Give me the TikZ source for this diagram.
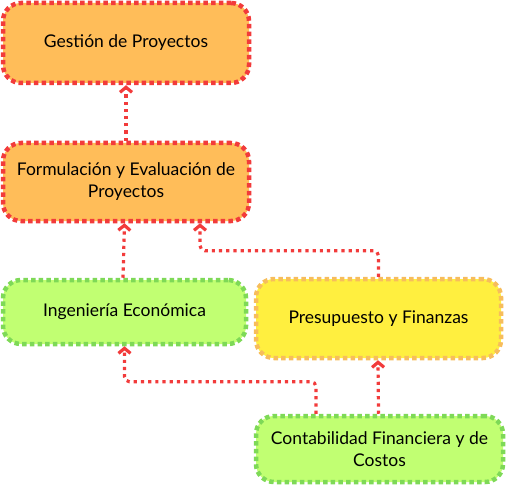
\documentclass[tikz,border=0pt]{standalone}
\usepackage{fontspec}
\setmainfont{Lato}
\usetikzlibrary{arrows.meta}
\definecolor{boxorange}{HTML}{FFBD59}
\definecolor{boxgreen}{HTML}{C1FF72}
\definecolor{boxyellow}{HTML}{FFEF3F}
\definecolor{edgered}{HTML}{F23B3B}
\definecolor{edgegreen}{HTML}{7ED957}
\definecolor{edgeyellow}{HTML}{F7BD5C}
\tikzset{
  course/.style={rounded corners=18pt,line width=4.5pt,dash pattern=on 4.5pt off 3.2pt,
    align=center,font=\fontsize{17.5}{22}\selectfont,inner sep=0pt},
  orangebox/.style={course,draw=edgered,fill=boxorange},
  greenbox/.style={course,draw=edgegreen,fill=boxgreen},
  yellowbox/.style={course,draw=edgeyellow,fill=boxyellow},
  link/.style={edgered,line width=3.2pt,dash pattern=on 3.2pt off 4pt,rounded corners=5pt,
    -{Straight Barb[length=5pt,width=12pt,line width=3.2pt]}}
}
\begin{document}
\begin{tikzpicture}[x=1pt,y=-1pt]
    \useasboundingbox (0,0) rectangle (513,486);
    \node[orangebox,minimum width=246pt,minimum height=80pt] (gest) at (126,43) {Gestión de Proyectos};
    \node[orangebox,minimum width=246pt,minimum height=78pt] (form) at (126,182) {Formulación y Evaluación de\\Proyectos};
    \node[greenbox,minimum width=243pt,minimum height=64pt] (ing) at (124.5,312) {Ingeniería Económica};
    \node[yellowbox,minimum width=245pt,minimum height=79pt] (pres) at (378.5,318.5) {Presupuesto y Finanzas};
    \node[greenbox,minimum width=247pt,minimum height=66pt] (cont) at (379.5,449) {Contabilidad Financiera y de\\Costos};
    % links
    \draw[link] (form.north) -- (gest.south);
    \draw[link] ([xshift=-1.5pt]ing.north) -- ([xshift=-1.5pt]form.south |- form.south);
    \draw[link] (pres.north) -- ++(0,-26) -| ([xshift=74pt]form.south);
    \draw[link] ([xshift=-63.5pt]cont.north) -- ++(0,-32) -| (ing.south);
    \draw[link] ([xshift=-1pt]cont.north) -- ([xshift=-0.5pt]pres.south);
\end{tikzpicture}
\end{document}
